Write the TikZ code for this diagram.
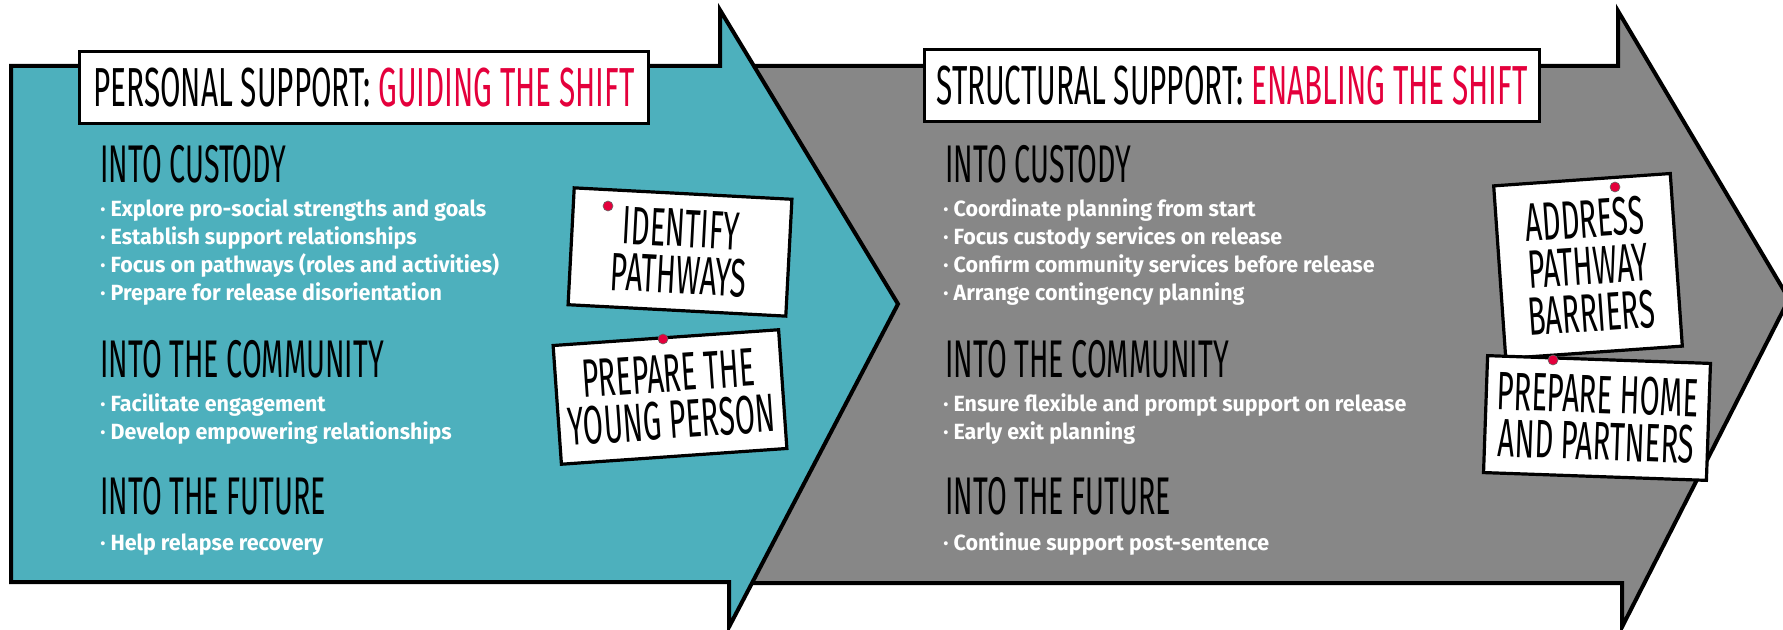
\documentclass[tikz,border=0pt]{standalone}
\usepackage{fontspec}
\usepackage{xcolor}
\usetikzlibrary{positioning}
\setmainfont{Fira Sans}
\newfontfamily\handfont[FakeStretch=0.54]{Fira Sans}
\newfontfamily\listfont[FakeStretch=0.975]{Fira Sans}
\definecolor{shiftTeal}{RGB}{77,176,189}
\definecolor{shiftGrey}{RGB}{135,135,135}
\definecolor{shiftRed}{RGB}{228,0,60}
\tikzset{
  arrowbody/.style={draw=black,line width=2pt,line join=miter},
  titlebox/.style={draw=black,fill=white,line width=1.5pt,inner sep=0pt,minimum height=36pt,font=\handfont\fontsize{27.5}{27.5}\selectfont},
  stage/.style={anchor=base west,inner sep=0pt,font=\handfont\fontsize{26.5}{26.5}\selectfont},
  item/.style={anchor=base west,inner sep=0pt,text=white,font=\listfont\bfseries\fontsize{11}{13}\selectfont},
  note/.style={draw=black,fill=white,line width=1.6pt,align=center,inner sep=0pt,font=\handfont\fontsize{27}{23.5}\selectfont},
  pin/.style={circle,fill=shiftRed,draw=black!60,line width=0.3pt,inner sep=0pt,minimum size=5pt}
}

\begin{document}
\begin{tikzpicture}[x=0.5pt,y=-0.5pt]
\useasboundingbox (0,0) rectangle (1783,630);

% the two big arrows, grey one behind
\draw[arrowbody,fill=shiftGrey] (740,66) -- (1618,66) -- (1618,11) -- (1789,299) -- (1622,627) -- (1622,583) -- (740,583) -- cycle;
\draw[arrowbody,fill=shiftTeal] (11,66) -- (720,66) -- (720,10) -- (898,304) -- (729,627) -- (729,582) -- (11,582) -- cycle;

% titles
\node[titlebox,minimum width=284.5pt] (perstitle) at (364,88) {PERSONAL SUPPORT: {\color{shiftRed}GUIDING THE SHIFT}};
\node[titlebox,minimum width=307.5pt] (structitle) at (1232,86) {STRUCTURAL SUPPORT: {\color{shiftRed}ENABLING THE SHIFT}};

% personal support
\node[stage] (pcust) at (100,183) {INTO CUSTODY};
\foreach \txt [count=\i from 0] in {Explore pro-social strengths and goals,Establish support relationships,Focus on pathways (roles and activities),Prepare for release disorientation}
  \node[item] (pcust\i) at (100,217+28*\i) {· \txt};
\node[stage] (pcomm) at (100,378) {INTO THE COMMUNITY};
\foreach \txt [count=\i from 0] in {Facilitate engagement,Develop empowering relationships}
  \node[item] (pcomm\i) at (100,412+28*\i) {· \txt};
\node[stage] (pfut) at (100,515) {INTO THE FUTURE};
\node[item] (pfut0) at (100,550) {· Help relapse recovery};

% structural support
\node[stage] (scust) at (945,183) {INTO CUSTODY};
\foreach \txt [count=\i from 0] in {Coordinate planning from start,Focus custody services on release,Confirm community services before release,Arrange contingency planning}
  \node[item] (scust\i) at (943,217+28*\i) {· \txt};
\node[stage] (scomm) at (945,378) {INTO THE COMMUNITY};
\foreach \txt [count=\i from 0] in {Ensure flexible and prompt support on release,Early exit planning}
  \node[item] (scomm\i) at (943,412+28*\i) {· \txt};
\node[stage] (sfut) at (945,515) {INTO THE FUTURE};
\node[item] (sfut0) at (943,550) {· Continue support post-sentence};

% pinned notes
\node[note,minimum width=109pt,minimum height=58.5pt,rotate=-3] (idnote) at (680,252) {IDENTIFY\\PATHWAYS};
\node[note,minimum width=113pt,minimum height=59.5pt,rotate=4] (ypnote) at (670,397) {PREPARE THE\\YOUNG PERSON};
\node[note,minimum width=88.5pt,minimum height=86.5pt,rotate=4] (abnote) at (1588,266) {ADDRESS\\PATHWAY\\BARRIERS};
\node[note,minimum width=111.5pt,minimum height=58.5pt,rotate=-2] (hpnote) at (1597,418) {PREPARE HOME\\AND PARTNERS};
\node[pin] (idpin) at (608,206) {};
\node[pin] (yppin) at (663,339) {};
\node[pin] (abpin) at (1615,187) {};
\node[pin] (hppin) at (1553,360) {};
\end{tikzpicture}
\end{document}
